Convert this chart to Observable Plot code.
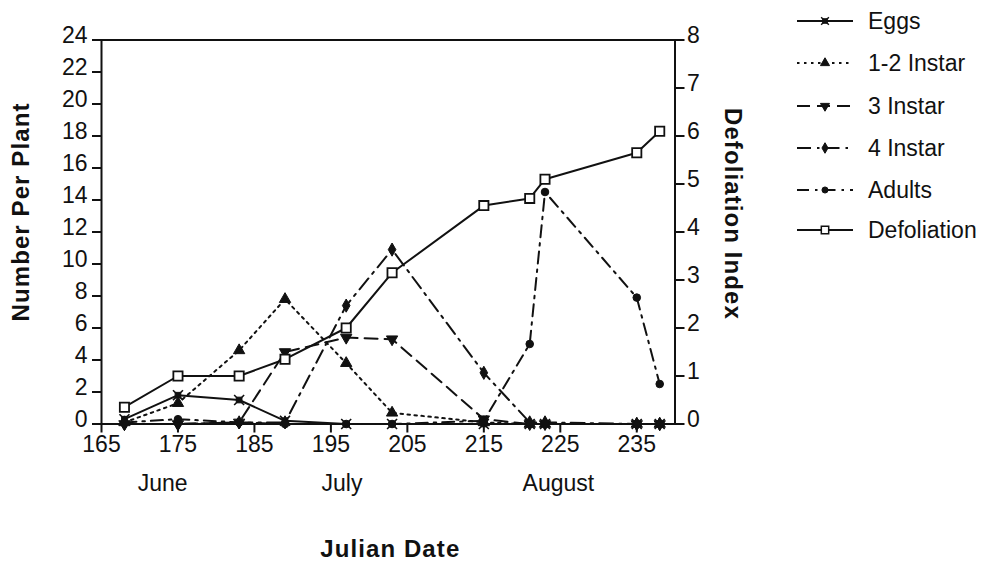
<!DOCTYPE html>
<html>
<head>
<meta charset="utf-8">
<script src="https://cdn.jsdelivr.net/npm/d3@7"></script>
<script src="https://cdn.jsdelivr.net/npm/@observablehq/plot@0.6"></script>
<style>
  body { margin: 0; background: #fff; }
  #wrap { position: relative; width: 987px; height: 575px; font-family: "Liberation Sans", Arial, sans-serif; }
  #legend { position: absolute; left: 797px; top: 0; }
  .row { position: absolute; left: 0; height: 30px; display: flex; align-items: center; white-space: nowrap; font-size: 23px; color: #111; }
  .row svg { margin-right: 15px; }
</style>
</head>
<body>
<div id="wrap"><div id="chart"></div><div id="legend"></div></div>
<script>
// ---- data ----
const days      = [168, 175, 183, 189, 197, 203, 215, 221, 223, 235, 238];
const eggs      = [0.3, 1.8, 1.5, 0.2, 0,   0,    0,   0,   0,    0,   0];
const instar12  = [0.1, 1.3, 4.6, 7.8, 3.8, 0.7,  0.1, 0,   0,    0,   0];
const instar3   = [0,   0,   0.1, 4.5, 5.4, 5.3,  0.3, 0,   0,    0,   0];
const instar4   = [0,   0,   0.1, 0.1, 7.4, 10.9, 3.2, 0.1, 0.1,  0,   0];
const adults    = [0.1, 0.3, 0.1, 0,   0,   0,    0.2, 5.0, 14.5, 7.9, 2.5];
const defoliation = [0.35, 1.0, 1.0, 1.35, 2.0, 3.15, 4.55, 4.7, 5.1, 5.65, 6.1];

const seriesNames = ["Eggs", "1-2 Instar", "3 Instar", "4 Instar", "Adults", "Defoliation"];
const seriesValues = [eggs, instar12, instar3, instar4, adults, defoliation];

const xTicks = [165, 175, 185, 195, 205, 215, 225, 235];
const yTicksLeft = [0, 2, 4, 6, 8, 10, 12, 14, 16, 18, 20, 22, 24];
const yTicksRight = [0, 1, 2, 3, 4, 5, 6, 7, 8];
const months = ["June", "July", "August"];
const monthDays = [173.0, 196.45, 224.75];
const titleX = "Julian Date", titleYLeft = "Number Per Plant", titleYRight = "Defoliation Index";

// ---- styles ----
const INK = "#111";
const styles = {
  "Eggs":        {dash: null,            symbol: "square",   r: 3.2, fill: INK,    rotate: 0},
  "1-2 Instar":  {dash: "2.5,4.5",       symbol: "triangle", r: 4.2, fill: INK,    rotate: 0},
  "3 Instar":    {dash: "13,7",          symbol: "triangle", r: 4.2, fill: INK,    rotate: 180},
  "4 Instar":    {dash: "14,6,2.5,6",    symbol: "diamond",  r: 4.0, fill: INK,    rotate: 0},
  "Adults":      {dash: "12,6,2.5,6",    symbol: "circle",   r: 3.8, fill: INK,    rotate: 0},
  "Defoliation": {dash: null,            symbol: "square",   r: 5.2, fill: "white", rotate: 0}
};
const RATIO = 24 / 8; // left scale per right scale unit

const marks = [];
const tables = seriesNames.map((name, k) => {
  const scale = name === "Defoliation" ? RATIO : 1;
  return days.map((d, i) => ({day: d, v: seriesValues[k][i] * scale}));
});
seriesNames.forEach((name, k) => {
  const s = styles[name];
  marks.push(Plot.line(tables[k], {x: "day", y: "v", stroke: INK, strokeWidth: 2, strokeDasharray: s.dash}));
});
seriesNames.forEach((name, k) => {
  const s = styles[name];
  marks.push(Plot.dot(tables[k], {x: "day", y: "v", symbol: s.symbol, r: s.r, fill: s.fill, stroke: INK,
    strokeWidth: name === "Defoliation" ? 1.8 : 1, rotate: s.rotate}));
  if (name === "Eggs") {
    marks.push(Plot.dot(tables[k], {x: "day", y: "v", symbol: "times", r: 4.6, stroke: INK, strokeWidth: 1.6}));
  }
});

const rightTicks = yTicksRight.map(t => t * RATIO);
const fmtRight = d => String(Math.round(d / RATIO));

const chart = Plot.plot({
  width: 987,
  height: 575,
  marginLeft: 101,
  marginRight: 312.5,
  marginTop: 39.5,
  marginBottom: 151.5,
  style: {fontFamily: "'Liberation Sans', Arial, sans-serif", fontSize: "23px", color: INK, background: "white"},
  x: {domain: [165, 240]},
  y: {domain: [0, 24]},
  marks: [
    Plot.frame({stroke: INK, strokeWidth: 2}),
    Plot.axisX(xTicks, {tickSize: 9, tickPadding: 3, label: null, stroke: INK, strokeWidth: 2, fill: INK}),
    // left axis: ticks, then labels nudged up as in the reference
    Plot.axisY(yTicksLeft, {anchor: "left", tickSize: 9, tickFormat: () => "", label: null, stroke: INK, strokeWidth: 2}),
    Plot.axisY(yTicksLeft, {anchor: "left", tickSize: 0, tickPadding: 14, dy: -4, label: null, fill: INK}),
    // right axis (defoliation index)
    Plot.axisY(rightTicks, {anchor: "right", tickSize: 9, tickFormat: () => "", label: null, stroke: INK, strokeWidth: 2}),
    Plot.axisY(rightTicks, {anchor: "right", tickSize: 0, tickPadding: 12, dy: -4, label: null, tickFormat: fmtRight, fill: INK}),
    ...marks,
    Plot.text(months, {x: monthDays, frameAnchor: "bottom", dy: 67, fill: INK}),
    Plot.text([titleX], {frameAnchor: "bottom", dy: 133, dx: 2, fontWeight: "bold", fontSize: 24, fill: INK}),
    Plot.text([titleYLeft], {frameAnchor: "left", textAnchor: "middle", dx: -80, dy: -20, rotate: -90, fontWeight: "bold", fontSize: 24, fill: INK}),
    Plot.text([titleYRight], {frameAnchor: "right", textAnchor: "middle", dx: 58, dy: -18, rotate: 90, fontWeight: "bold", fontSize: 24, fill: INK})
  ]
});
// the reference's bold titles are set loosely
d3.select(chart).selectAll("text").filter(function() {
  return [titleX, titleYLeft, titleYRight].includes(this.textContent);
}).attr("letter-spacing", "1.1px");
document.getElementById("chart").appendChild(chart);

// ---- legend ----
const legend = document.getElementById("legend");
const rowCenters = [21, 63, 106, 148, 190, 230];
seriesNames.forEach((name, k) => {
  const s = styles[name];
  const row = document.createElement("div");
  row.className = "row";
  row.style.top = (rowCenters[k] - 15) + "px";
  const W = 56, H = 30;
  const svg = d3.create("svg").attr("width", W).attr("height", H);
  svg.append("line").attr("x1", 0).attr("x2", W).attr("y1", H / 2).attr("y2", H / 2)
    .attr("stroke", INK).attr("stroke-width", 2).attr("stroke-dasharray", s.dash);
  const symMap = {square: d3.symbolSquare, triangle: d3.symbolTriangle, diamond: d3.symbolDiamond, circle: d3.symbolCircle};
  const size = Math.PI * (s.r * 0.8) ** 2;
  svg.append("path").attr("d", d3.symbol(symMap[s.symbol], size)())
    .attr("transform", `translate(${W / 2},${H / 2}) rotate(${s.rotate})`)
    .attr("fill", s.fill).attr("stroke", INK).attr("stroke-width", name === "Defoliation" ? 1.5 : 1);
  if (name === "Eggs") {
    svg.append("path").attr("d", d3.symbol(d3.symbolTimes, Math.PI * 3.6 ** 2)())
      .attr("transform", `translate(${W / 2},${H / 2})`).attr("fill", "none").attr("stroke", INK).attr("stroke-width", 1.4);
  }
  row.appendChild(svg.node());
  const span = document.createElement("span");
  span.textContent = name;
  row.appendChild(span);
  legend.appendChild(row);
});
</script>
</body>
</html>
